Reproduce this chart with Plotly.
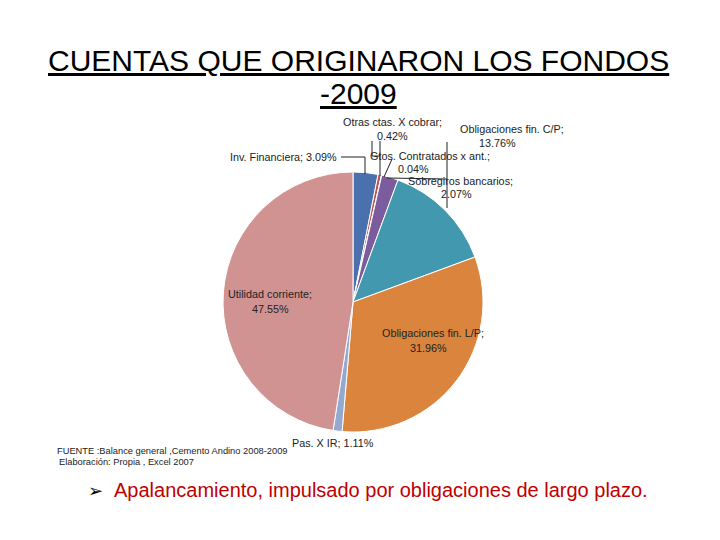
import plotly.graph_objects as go

W, H = 720, 540
labels = ["Inv. Financiera", "Otras ctas. X cobrar", "Gtos. Contratados x ant.",
          "Sobregiros bancarios", "Obligaciones fin. C/P", "Obligaciones fin. L/P",
          "Pas. X IR", "Utilidad corriente"]
values = [3.09, 0.42, 0.04, 2.07, 13.76, 31.96, 1.11, 47.55]
colors = ["#4A70AE", "#C0504D", "#9BBB59", "#7B5C9E", "#4298AF", "#DB843D", "#94A9D0", "#D09392"]

fig = go.Figure()
fig.add_trace(go.Pie(
    labels=labels, values=values, sort=False, direction="clockwise", rotation=0,
    marker=dict(colors=colors, line=dict(color="white", width=1)),
    textinfo="none", hoverinfo="label+percent", showlegend=False,
    domain=dict(x=[223 / W, 483 / W], y=[1 - 432 / H, 1 - 172 / H]),
))

def px(x):
    return x / W

def py(y):
    return 1 - y / H

lab_font = dict(family="Liberation Sans", size=10.8, color="#222222")

def ann(x, y, text, xanchor="center", font=lab_font):
    fig.add_annotation(x=px(x), y=py(y), xref="paper", yref="paper", text=text,
                       showarrow=False, xanchor=xanchor, yanchor="middle", font=font)

def pct(v):
    return f"{v:.2f}%"

ann(393, 122, labels[1] + ";")
ann(393, 136, pct(values[1]))
ann(512, 129, labels[4] + ";", xanchor="center")
ann(497, 143, pct(values[4]))
ann(430, 156, labels[2] + ";")
ann(413, 169, pct(values[2]))
ann(461, 181, labels[3] + ";")
ann(456, 194, pct(values[3]))
ann(339, 157, f"{labels[0]}; {pct(values[0])}", xanchor="right")
ann(270, 294, labels[7] + ";")
ann(270, 309, pct(values[7]))
ann(433, 333, labels[5] + ";")
ann(428, 348, pct(values[5]))
ann(333, 443, f"{labels[6]}; {pct(values[6])}")

small = dict(family="Liberation Sans", size=9.3, color="#222222")
ann(55, 451, "FUENTE :Balance general ,Cemento Andino 2008-2009", xanchor="left", font=small)
ann(57, 462, "Elaboración: Propia , Excel 2007", xanchor="left", font=small)

# leader lines
lines = [
    [(341, 157), (365, 157), (365, 174)],
    [(372, 141), (372, 156), (380, 156)],
    [(380, 141), (380, 176)],
    [(384, 177), (392, 159)],
    [(387, 178), (447, 179)],
    [(447, 142), (447, 208)],
]
for pts in lines:
    path = "M " + " L ".join(f"{px(x)} {py(y)}" for x, y in pts)
    fig.add_shape(type="path", path=path, xref="paper", yref="paper",
                  line=dict(color="#222222", width=1))

title_font = dict(family="Liberation Sans", size=30, color="black")
fig.add_annotation(x=px(358), y=py(60), xref="paper", yref="paper",
                   text="<u>CUENTAS QUE ORIGINARON LOS FONDOS</u>",
                   showarrow=False, xanchor="center", yanchor="middle", font=title_font)
fig.add_annotation(x=px(358), y=py(94), xref="paper", yref="paper",
                   text="<u>-2009</u>",
                   showarrow=False, xanchor="center", yanchor="middle", font=title_font)

fig.add_annotation(x=px(86), y=py(490), xref="paper", yref="paper", text="➢",
                   showarrow=False, xanchor="left", yanchor="middle",
                   font=dict(family="DejaVu Sans", size=18, color="black"))
fig.add_annotation(x=px(112), y=py(490), xref="paper", yref="paper",
                   text="Apalancamiento, impulsado por obligaciones de largo plazo.",
                   showarrow=False, xanchor="left", yanchor="middle",
                   font=dict(family="Liberation Sans", size=20, color="#C00000"))

fig.update_layout(width=W, height=H, margin=dict(l=0, r=0, t=0, b=0),
                  paper_bgcolor="white", plot_bgcolor="white")
fig.write_html("out.html")
